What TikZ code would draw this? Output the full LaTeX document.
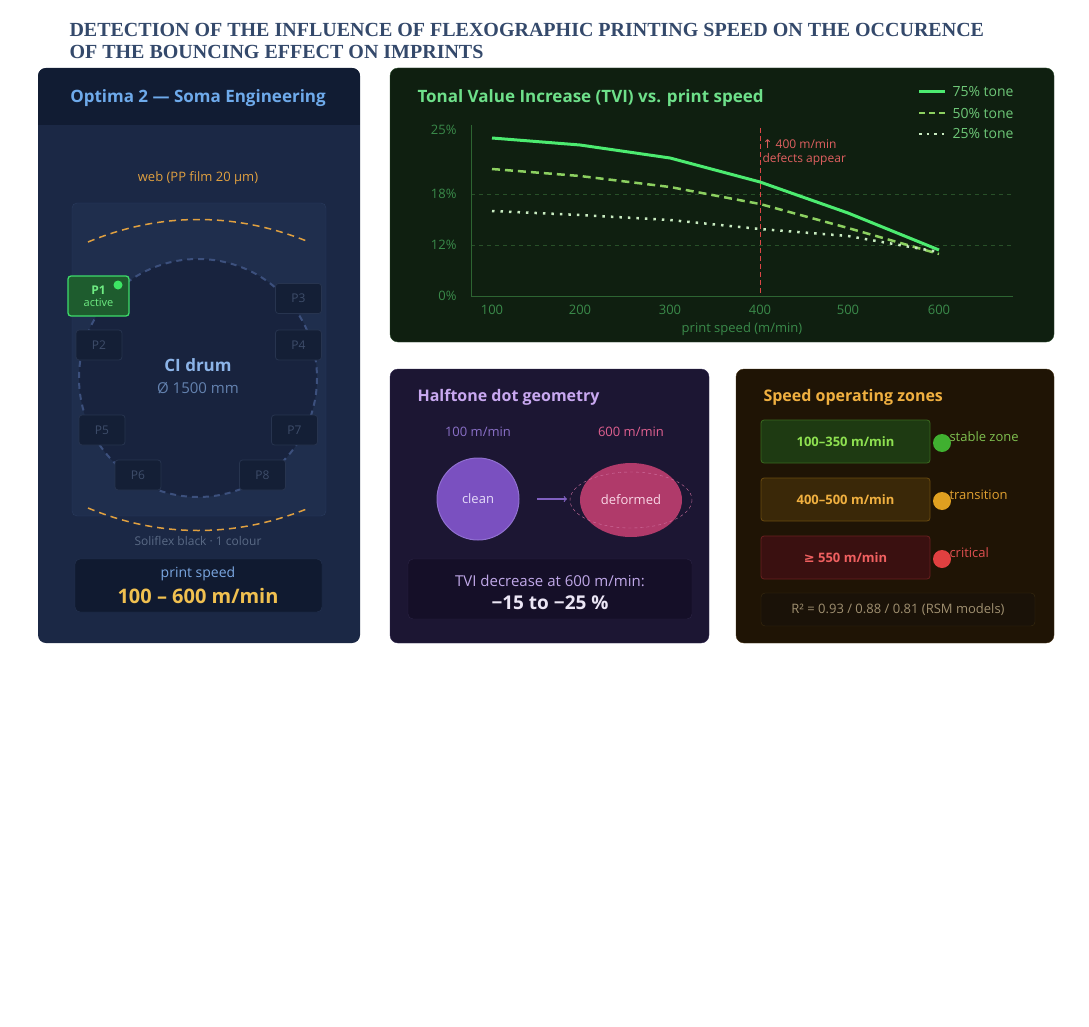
\documentclass[tikz,border=0pt]{standalone}
\usepackage{fontspec}
\setmainfont{Open Sans}
\newfontfamily\ttlfont{Liberation Serif}
\newfontfamily\symf{DejaVu Sans}
\usetikzlibrary{shapes.geometric}
\definecolor{titlec}{HTML}{34496B}
\definecolor{leftbg}{HTML}{1B2845}
\definecolor{lefthd}{HTML}{111C33}
\definecolor{chartbg}{HTML}{0F1F10}
\definecolor{halfbg}{HTML}{1C1633}
\definecolor{zonebg}{HTML}{1F1405}
\definecolor{orng}{HTML}{E0A040}
\definecolor{pbox}{HTML}{141F36}
\definecolor{pbrd}{HTML}{27344F}
\definecolor{ptxt}{HTML}{3E4D6A}
\definecolor{gtick}{HTML}{3A8A4A}
\definecolor{g75}{HTML}{4CEB70}
\definecolor{g50}{HTML}{8CD060}
\definecolor{g25}{HTML}{C8EBC0}
\definecolor{drumc}{HTML}{3C507D}
\definecolor{drumf}{HTML}{18233E}
\definecolor{gridc}{HTML}{285028}
\definecolor{axisc}{HTML}{2D6432}
\definecolor{redl}{HTML}{DC4646}
\definecolor{pinkd}{HTML}{D070A0}
\definecolor{arrc}{HTML}{8060C0}
\definecolor{dotg}{HTML}{40B030}
\definecolor{doto}{HTML}{E0A020}
\definecolor{dotr}{HTML}{E04040}
\definecolor{dotp}{HTML}{3DE664}
\begin{document}
\begin{tikzpicture}[x=1pt,y=-1pt,
  panel/.style={rounded corners=8pt},
  pnode/.style={draw=pbrd,fill=pbox,rounded corners=3pt,minimum width=46pt,minimum height=30pt,text=ptxt,font=\fontsize{12}{14}\selectfont,line width=0.8pt},
  zbox/.style={rounded corners=3pt,minimum width=169pt,minimum height=43pt,font=\fontsize{13}{15}\selectfont\bfseries,line width=0.8pt},
  ztxt/.style={anchor=west,font=\fontsize{13}{15}\selectfont},
  tick/.style={text=gtick,font=\fontsize{13}{15}\selectfont}]
\useasboundingbox[fill=white] (0,0) rectangle (1089,1027);
% title
\node[anchor=west,text=titlec,font=\ttlfont\fontsize{20}{21}\selectfont\bfseries] (ttl1) at (66,30) {DETECTION OF THE INFLUENCE OF FLEXOGRAPHIC PRINTING SPEED ON THE OCCURENCE};
\node[anchor=west,text=titlec,font=\ttlfont\fontsize{20}{21}\selectfont\bfseries] (ttl2) at (66,52) {OF THE BOUNCING EFFECT ON IMPRINTS};
% ---------- left panel
\fill[leftbg,panel] (38,68) rectangle (360,643);
\begin{scope}
\clip[panel] (38,68) rectangle (360,643);
\fill[lefthd] (38,68) rectangle (360,125);
\end{scope}
\node[text={rgb,255:red,110;green,170;blue,235},font=\fontsize{17}{19}\selectfont\bfseries] (lt) at (198,98) {Optima 2 — Soma Engineering};
\node[text=orng,font=\fontsize{13}{15}\selectfont] (web) at (198,178) {web (PP film 20 µm)};
\draw[fill={rgb,255:red,31;green,46;blue,77},draw={rgb,255:red,42;green,59;blue,94},rounded corners=5pt] (72,203) rectangle (326,516);
\draw[draw=orng,dash pattern=on 7pt off 5pt,line width=1.5pt] (88,242) .. controls (160,212) and (236,212) .. (309,242);
\draw[draw=orng,dash pattern=on 7pt off 5pt,line width=1.5pt] (88,508) .. controls (160,538) and (236,538) .. (309,508);
\draw[draw=drumc,dash pattern=on 6pt off 5pt,line width=2pt,fill=drumf] (198,378) circle (119);
\node[text={rgb,255:red,140;green,180;blue,232},font=\fontsize{17}{19}\selectfont\bfseries] (drum) at (198,365) {CI drum};
\node[text={rgb,255:red,100;green,130;blue,175},font=\fontsize{15}{17}\selectfont] (dia) at (198,388) {Ø 1500 mm};
\node[pnode,draw={rgb,255:red,61;green,220;blue,106},fill={rgb,255:red,30;green,92;blue,46},minimum width=61pt,minimum height=40pt,line width=1.3pt,align=center,text={rgb,255:red,110;green,235;blue,130},font=\fontsize{12}{13}\selectfont] (p1) at (98.5,296) {\textbf{P1}\\[-1pt]{\fontsize{11}{12}\selectfont active}};
\fill[fill=dotp] (118,285) circle (4.5);
\node[pnode] (p3) at (298.5,298.5) {P3};
\node[pnode] (p2) at (99,345) {P2};
\node[pnode] (p4) at (298.5,345) {P4};
\node[pnode] (p5) at (102,430) {P5};
\node[pnode] (p7) at (294.5,430) {P7};
\node[pnode] (p6) at (138,475) {P6};
\node[pnode] (p8) at (262.5,475) {P8};
\node[text={rgb,255:red,90;green,106;blue,133},font=\fontsize{12}{14}\selectfont] (sol) at (198,541) {Soliflex black · 1 colour};
\draw[fill={rgb,255:red,16;green,26;blue,48},draw={rgb,255:red,37;green,51;blue,80},rounded corners=5pt] (75,559) rectangle (322,612);
\node[text={rgb,255:red,122;green,166;blue,224},font=\fontsize{14}{16}\selectfont] (ps) at (198,574) {print speed};
\node[text={rgb,255:red,240;green,192;blue,80},font=\fontsize{20}{22}\selectfont\bfseries] (psv) at (198,596) {100 – 600 m/min};
% ---------- chart panel
\draw[fill=chartbg,draw={rgb,255:red,42;green,74;blue,42},panel] (390,68) rectangle (1054,342);
\node[anchor=west,text={rgb,255:red,110;green,224;blue,138},font=\fontsize{17}{19}\selectfont\bfseries] (ct) at (414,98) {Tonal Value Increase (TVI) vs. print speed};
\draw[draw=gridc,dash pattern=on 4pt off 4pt] (471,194) -- (1013,194) (471,245) -- (1013,245);
\draw[draw=axisc,line width=1pt] (471,125) -- (471,296) -- (1013,296);
\foreach \v/\y in {25\%/130,18\%/194,12\%/245,0\%/296} \node[tick,anchor=east] at (460,\y) {\v};
\foreach \v/\x in {100/492,200/580,300/670,400/760,500/848,600/939} \node[tick] at (\x,310) {\v};
\node[tick] (xl) at (742,329) {print speed (m/min)};
\draw[draw=redl,dash pattern=on 5pt off 3pt,line width=1pt] (760,128) -- (760,296);
\node[anchor=west,text={rgb,255:red,224;green,96;blue,96},font=\fontsize{12}{14}\selectfont,align=left] (ann) at (759,153) {{\symf ↑} 400 m/min\\defects appear};
\draw[draw=g75,line width=3pt] (492,138) -- (580,145) -- (670,158) -- (760,182) -- (848,213) -- (939,250);
\draw[draw=g50,line width=2.5pt,dash pattern=on 8pt off 5pt] (492,169) -- (580,176) -- (670,187) -- (760,204) -- (848,228) -- (939,254);
\draw[draw=g25,line width=2.5pt,dash pattern=on 2.5pt off 6pt] (492,211) -- (580,215) -- (670,220) -- (760,229) -- (848,236) -- (939,252);
\draw[draw=g75,line width=3pt] (919,92) -- (945,92);
\draw[draw=g50,line width=2.5pt,dash pattern=on 6pt off 4pt] (919,113) -- (945,113);
\draw[draw=g25,line width=2.5pt,dash pattern=on 2.5pt off 5pt] (919,134) -- (945,134);
\foreach \t/\y in {75/92,50/113,25/134} \node[anchor=west,text={rgb,255:red,110;green,200;blue,120},font=\fontsize{14}{16}\selectfont] at (949,\y) {\t\% tone};
% ---------- halftone panel
\draw[fill=halfbg,draw={rgb,255:red,50;green,40;blue,80},panel] (390,369) rectangle (709,643);
\node[anchor=west,text={rgb,255:red,200;green,168;blue,240},font=\fontsize{16}{18}\selectfont\bfseries] (ht) at (414,397) {Halftone dot geometry};
\node[text={rgb,255:red,138;green,112;blue,200},font=\fontsize{13}{15}\selectfont] (s1) at (478,432) {100 m/min};
\node[text={rgb,255:red,224;green,96;blue,144},font=\fontsize{13}{15}\selectfont] (s6) at (631,432) {600 m/min};
\node[circle,minimum size=82pt,fill={rgb,255:red,122;green,80;blue,192},draw={rgb,255:red,144;green,112;blue,208},line width=1pt,text={rgb,255:red,230;green,220;blue,250},font=\fontsize{13}{15}\selectfont] (clean) at (478,499) {clean};
\node[ellipse,minimum width=102pt,minimum height=74pt,fill={rgb,255:red,176;green,58;blue,106},text={rgb,255:red,250;green,215;blue,230},font=\fontsize{13}{15}\selectfont] (def) at (631,500) {deformed};
\draw[draw=pinkd,dash pattern=on 3pt off 3pt] (631,500) ellipse (61 and 28);
\draw[->,draw=arrc,line width=1.2pt] (537,499) -- (567,499);
\draw[fill={rgb,255:red,21;green,15;blue,40},draw={rgb,255:red,44;green,36;blue,69},rounded corners=5pt] (408,559) rectangle (692,619);
\node[text={rgb,255:red,192;green,168;blue,232},font=\fontsize{15}{17}\selectfont] (tv1) at (550,581) {TVI decrease at 600 m/min:};
\node[text={rgb,255:red,235;green,230;blue,245},font=\fontsize{19}{21}\selectfont\bfseries] (tv2) at (550,603) {−15 to −25 \%};
% ---------- zones panel
\draw[fill=zonebg,draw={rgb,255:red,70;green,50;blue,20},panel] (736,369) rectangle (1054,643);
\node[anchor=west,text={rgb,255:red,240;green,176;blue,64},font=\fontsize{16}{18}\selectfont\bfseries] (zt) at (760,397) {Speed operating zones};
\node[zbox,fill={rgb,255:red,30;green,58;blue,18},draw={rgb,255:red,58;green,106;blue,32},text={rgb,255:red,142;green,224;blue,80}] (z1) at (845.5,441.5) {100–350 m/min};
\node[zbox,fill={rgb,255:red,58;green,40;blue,8},draw={rgb,255:red,106;green,74;blue,16},text={rgb,255:red,240;green,176;blue,64}] (z2) at (845.5,499.5) {400–500 m/min};
\node[zbox,fill={rgb,255:red,58;green,16;blue,16},draw={rgb,255:red,106;green,32;blue,32},text={rgb,255:red,240;green,96;blue,96}] (z3) at (845.5,557.5) {{\symf ≥} 550 m/min};
\fill[fill=dotg] (942,443) circle (9);
\fill[fill=doto] (942,501) circle (9);
\fill[fill=dotr] (942,559) circle (9);
\node[ztxt,text={rgb,255:red,128;green,192;blue,80}] (l1) at (946,437) {stable zone};
\node[ztxt,text={rgb,255:red,224;green,160;blue,48}] (l2) at (946,495) {transition};
\node[ztxt,text={rgb,255:red,224;green,80;blue,80}] (l3) at (946,553) {critical};
\draw[fill={rgb,255:red,26;green,18;blue,8},draw={rgb,255:red,58;green,44;blue,16},rounded corners=4pt] (761,593) rectangle (1035,626);
\node[text={rgb,255:red,160;green,144;blue,112},font=\fontsize{13}{15}\selectfont] (r2) at (898,609.5) {R² = 0.93 / 0.88 / 0.81 (RSM models)};
\end{tikzpicture}
\end{document}
